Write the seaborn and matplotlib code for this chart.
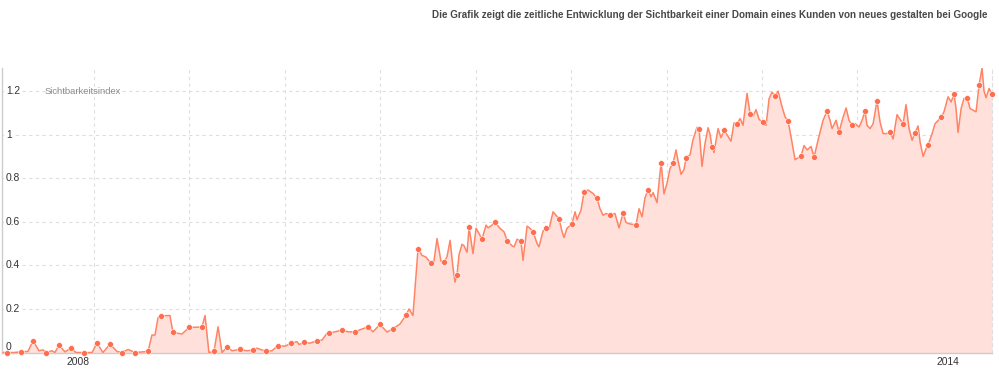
import numpy as np
import pandas as pd
import matplotlib
matplotlib.use("Agg")
import matplotlib.pyplot as plt
import matplotlib.transforms as mtransforms
import seaborn as sns

TITLE = ("Die Grafik zeigt die zeitliche Entwicklung der Sichtbarkeit einer Domain "
         "eines Kunden von neues gestalten bei Google")
SERIES_NAME = "Sichtbarkeitsindex"

# decimal years, visibility index, 1 = point drawn with a dot
years = [
    2007.483, 2007.510, 2007.559, 2007.607, 2007.655, 2007.690, 2007.731, 2007.759, 2007.779, 2007.821,
    2007.841, 2007.869, 2007.910, 2007.952, 2007.986, 2008.041, 2008.097, 2008.131, 2008.172, 2008.221,
    2008.269, 2008.303, 2008.345, 2008.393, 2008.483, 2008.510, 2008.531, 2008.552, 2008.572, 2008.634,
    2008.655, 2008.717, 2008.766, 2008.855, 2008.876, 2008.903, 2008.938, 2008.966, 2008.993, 2009.028,
    2009.062, 2009.117, 2009.166, 2009.207, 2009.234, 2009.297, 2009.338, 2009.379, 2009.428, 2009.469,
    2009.510, 2009.524, 2009.559, 2009.600, 2009.648, 2009.683, 2009.717, 2009.731, 2009.772, 2009.821,
    2009.862, 2009.910, 2009.959, 2010.000, 2010.034, 2010.083, 2010.131, 2010.172, 2010.221, 2010.262,
    2010.283, 2010.310, 2010.345, 2010.372, 2010.400, 2010.434, 2010.455, 2010.476, 2010.503, 2010.524,
    2010.545, 2010.566, 2010.586, 2010.600, 2010.614, 2010.628, 2010.648, 2010.662, 2010.683, 2010.697,
    2010.724, 2010.745, 2010.766, 2010.786, 2010.814, 2010.828, 2010.855, 2010.876, 2010.910, 2010.938,
    2010.959, 2010.993, 2011.007, 2011.028, 2011.055, 2011.069, 2011.097, 2011.117, 2011.138, 2011.166,
    2011.179, 2011.207, 2011.228, 2011.248, 2011.276, 2011.297, 2011.317, 2011.338, 2011.352, 2011.372,
    2011.407, 2011.428, 2011.441, 2011.469, 2011.490, 2011.517, 2011.552, 2011.579, 2011.600, 2011.621,
    2011.641, 2011.669, 2011.703, 2011.731, 2011.759, 2011.779, 2011.807, 2011.848, 2011.869, 2011.890,
    2011.910, 2011.931, 2011.952, 2011.966, 2011.993, 2012.021, 2012.041, 2012.062, 2012.083, 2012.103,
    2012.124, 2012.138, 2012.159, 2012.179, 2012.193, 2012.221, 2012.241, 2012.269, 2012.283, 2012.303,
    2012.324, 2012.345, 2012.359, 2012.372, 2012.386, 2012.414, 2012.434, 2012.455, 2012.483, 2012.503,
    2012.524, 2012.545, 2012.566, 2012.586, 2012.614, 2012.634, 2012.655, 2012.676, 2012.697, 2012.724,
    2012.745, 2012.766, 2012.786, 2012.807, 2012.828, 2012.855, 2012.876, 2012.897, 2012.917, 2012.945,
    2012.986, 2013.007, 2013.028, 2013.055, 2013.076, 2013.103, 2013.138, 2013.166, 2013.186, 2013.200,
    2013.228, 2013.248, 2013.276, 2013.297, 2013.317, 2013.338, 2013.359, 2013.386, 2013.407, 2013.428,
    2013.441, 2013.462, 2013.483, 2013.510, 2013.531, 2013.552, 2013.579, 2013.600, 2013.621, 2013.648,
    2013.662, 2013.690, 2013.710, 2013.731, 2013.752, 2013.772, 2013.793, 2013.807, 2013.828, 2013.848,
    2013.862, 2013.890, 2013.910, 2013.952, 2013.972, 2014.000, 2014.021, 2014.041, 2014.055, 2014.069,
    2014.090, 2014.110, 2014.131, 2014.152, 2014.179, 2014.193, 2014.214, 2014.234, 2014.248, 2014.262,
    2014.283, 2014.303,
]
values = [
    0.000, 0.000, 0.000, 0.003, 0.005, 0.054, 0.008, 0.012, 0.000, 0.008,
    0.000, 0.034, 0.003, 0.020, 0.000, 0.000, 0.000, 0.043, 0.000, 0.038,
    0.005, 0.000, 0.014, 0.000, 0.005, 0.080, 0.080, 0.160, 0.168, 0.170,
    0.092, 0.085, 0.115, 0.117, 0.170, 0.000, 0.005, 0.118, 0.000, 0.025,
    0.008, 0.014, 0.008, 0.012, 0.020, 0.005, 0.008, 0.032, 0.029, 0.042,
    0.050, 0.037, 0.046, 0.043, 0.054, 0.057, 0.088, 0.089, 0.095, 0.103,
    0.095, 0.095, 0.108, 0.117, 0.095, 0.129, 0.094, 0.109, 0.131, 0.172,
    0.200, 0.170, 0.477, 0.446, 0.438, 0.410, 0.420, 0.523, 0.420, 0.415,
    0.440, 0.515, 0.390, 0.323, 0.358, 0.450, 0.497, 0.490, 0.460, 0.574,
    0.454, 0.570, 0.546, 0.520, 0.585, 0.572, 0.585, 0.598, 0.570, 0.554,
    0.514, 0.490, 0.485, 0.520, 0.510, 0.423, 0.580, 0.570, 0.554, 0.500,
    0.485, 0.558, 0.570, 0.565, 0.646, 0.630, 0.614, 0.555, 0.528, 0.570,
    0.592, 0.646, 0.610, 0.654, 0.738, 0.746, 0.730, 0.708, 0.660, 0.630,
    0.638, 0.632, 0.638, 0.572, 0.640, 0.597, 0.590, 0.586, 0.660, 0.623,
    0.710, 0.746, 0.715, 0.734, 0.688, 0.872, 0.728, 0.777, 0.846, 0.868,
    0.930, 0.880, 0.818, 0.840, 0.892, 0.908, 0.977, 1.034, 1.026, 0.854,
    0.960, 1.032, 1.000, 0.943, 0.918, 1.028, 0.986, 1.020, 0.992, 0.970,
    1.054, 1.050, 1.074, 1.043, 1.190, 1.097, 1.085, 1.115, 1.070, 1.057,
    1.043, 1.166, 1.195, 1.177, 1.200, 1.128, 1.082, 1.062, 0.990, 0.885,
    0.902, 0.950, 0.930, 0.946, 0.897, 0.974, 1.066, 1.109, 1.066, 1.028,
    1.066, 1.012, 1.080, 1.123, 1.066, 1.043, 1.050, 1.035, 1.066, 1.108,
    1.043, 1.028, 1.050, 1.155, 1.058, 1.005, 1.005, 1.014, 0.980, 1.092,
    1.077, 1.050, 1.138, 1.028, 0.974, 1.008, 1.040, 0.966, 0.900, 0.935,
    0.951, 1.005, 1.050, 1.080, 1.105, 1.174, 1.150, 1.186, 1.120, 1.010,
    1.120, 1.166, 1.170, 1.120, 1.110, 1.105, 1.228, 1.305, 1.200, 1.170,
    1.212, 1.185,
]
dots = [
    0, 1, 0, 1, 0, 1, 0, 0, 1, 0,
    0, 1, 0, 1, 0, 1, 0, 1, 0, 1,
    0, 1, 0, 1, 1, 0, 0, 0, 1, 0,
    1, 0, 1, 1, 0, 0, 1, 0, 0, 1,
    0, 1, 0, 1, 0, 1, 0, 1, 0, 1,
    0, 0, 1, 0, 1, 0, 0, 1, 0, 1,
    0, 1, 0, 1, 0, 1, 0, 1, 0, 1,
    0, 0, 1, 0, 0, 1, 0, 0, 0, 1,
    0, 0, 0, 0, 1, 0, 0, 0, 0, 1,
    0, 0, 0, 1, 0, 0, 0, 1, 0, 0,
    1, 0, 0, 0, 1, 0, 0, 0, 1, 0,
    0, 0, 1, 0, 0, 0, 1, 0, 0, 0,
    1, 0, 0, 0, 1, 0, 0, 1, 0, 0,
    0, 1, 0, 0, 1, 0, 0, 1, 0, 0,
    0, 1, 0, 0, 0, 1, 0, 0, 0, 1,
    0, 0, 0, 0, 1, 0, 0, 0, 1, 0,
    0, 0, 0, 1, 0, 0, 0, 1, 0, 0,
    0, 1, 0, 0, 0, 1, 0, 0, 0, 1,
    0, 0, 0, 1, 0, 0, 0, 1, 0, 0,
    1, 0, 0, 0, 1, 0, 0, 1, 0, 0,
    0, 1, 0, 0, 0, 1, 0, 0, 0, 1,
    0, 0, 0, 1, 0, 0, 0, 1, 0, 0,
    0, 1, 0, 0, 0, 1, 0, 0, 0, 0,
    1, 0, 0, 1, 0, 0, 0, 1, 0, 0,
    0, 0, 1, 0, 0, 0, 1, 0, 0, 0,
    0, 1,
]

y_ticks = [0, 0.2, 0.4, 0.6, 0.8, 1, 1.2]
y_tick_labels = ["0", "0.2", "0.4", "0.6", "0.8", "1", "1.2"]
x_ticks = [2008, 2014]
x_tick_labels = ["2008", "2014"]

df = pd.DataFrame({"year": years, "value": values, "dot": dots})

LINE = "#ff8465"
DOT = "#ff6d4f"
FILL = "#ffe0da"
GRID = "#dedede"

sns.set_theme(style="white")
plt.rcParams["font.family"] = ["Liberation Sans", "DejaVu Sans"]

fig = plt.figure(figsize=(9.99, 3.87), dpi=100)
ax = fig.add_axes([0.002, 0.0891, 0.991, 0.7351])

ax.fill_between(df["year"], df["value"], 0, color=FILL, lw=0, zorder=1)
sns.lineplot(data=df, x="year", y="value", ax=ax, color=LINE, lw=1.1,
             sort=False, estimator=None, zorder=3,
             solid_joinstyle="round", solid_capstyle="round")
sns.scatterplot(data=df[df["dot"] == 1], x="year", y="value", ax=ax, color=DOT,
                s=18, edgecolor="white", linewidth=0.4, zorder=4, clip_on=False)

ax.set_xlim(2007.476, 2014.303)
ax.set_ylim(0, 1.306)

# vertical grid every ~240 days, as in the original chart
grid_x = [2008.110 + 0.6581 * k for k in range(9)]
ax.set_xticks(x_ticks)
ax.set_xticklabels(x_tick_labels, fontsize=7.4, color="#333333")
ax.set_xticks(grid_x, minor=True)
ax.set_yticks(y_ticks)
ax.set_yticklabels([])
ax.tick_params(axis="both", which="both", length=0)
ax.tick_params(axis="x", pad=3.2)

ax.xaxis.grid(True, which="minor", color=GRID, ls=(0, (3, 3)), lw=0.8)
ax.xaxis.grid(False, which="major")
ax.yaxis.grid(True, which="major", color=GRID, ls=(0, (3, 3)), lw=0.8)
ax.set_axisbelow(True)

ax.spines["top"].set_visible(False)
ax.spines["left"].set_color("#cccccc")
ax.spines["left"].set_linewidth(1)
ax.spines["bottom"].set_color("#cccccc")
ax.spines["bottom"].set_linewidth(1)
ax.spines["right"].set_color(GRID)
ax.spines["right"].set_linestyle((0, (3, 3)))
ax.spines["right"].set_linewidth(0.8)
ax.set_xlabel("")
ax.set_ylabel("")

trans = mtransforms.blended_transform_factory(ax.transAxes, ax.transData)
for val, lab in zip(y_ticks, y_tick_labels):
    ax.text(0.004, val + (0.026 if val == 0 else 0), lab, transform=trans,
            ha="left", va="center", fontsize=7.4, color="#333333", zorder=2,
            bbox=dict(facecolor="white", edgecolor="none", pad=1.2))

ax.text(0.043, 1.2, SERIES_NAME, transform=trans, ha="left", va="center",
        fontsize=6.75, color="#8a8a8a", zorder=2)

fig.text(988 / 999, 1 - 15 / 387, TITLE, ha="right", va="center",
         fontsize=7.1, fontweight="bold", color="#484848")

fig.savefig("out.png", dpi=100)
